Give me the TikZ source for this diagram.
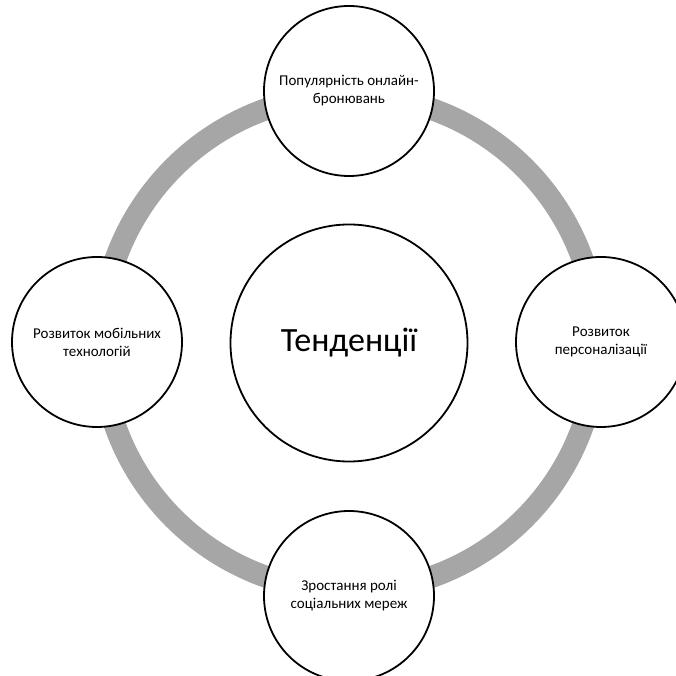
\documentclass[tikz,border=0pt]{standalone}
\usepackage{fontspec}
\setmainfont{Carlito}
\definecolor{ringgray}{HTML}{A6A6A6}
\begin{document}
\begin{tikzpicture}[x=1pt,y=1pt,
  hub/.style={circle, draw=black, line width=1.8pt, fill=white,
    minimum size=237pt, inner sep=0pt, align=center, font=\fontsize{34}{40}\selectfont},
  spoke/.style={circle, draw=black, line width=1.8pt, fill=white,
    minimum size=170pt, inner sep=0pt, align=center, font=\fontsize{15}{18}\selectfont},
  ring/.style={draw=ringgray, line width=22pt}]
  \clip (0,0) rectangle (676,676);
  \coordinate (c) at (349,333);
  % grey cycle linking the four trends
  \draw[ring] (c) circle[radius=248];
  \node[hub] (hub) at (c) {Тенденції};
  \node[spoke] (top) at (349,585) {Популярність онлайн-\\бронювань};
  \node[spoke] (right) at (601,334) {Розвиток\\персоналізації};
  \node[spoke] (bottom) at (349,80) {Зростання ролі\\соціальних мереж};
  \node[spoke] (left) at (97,334) {Розвиток мобільних\\технологій};
\end{tikzpicture}
\end{document}
